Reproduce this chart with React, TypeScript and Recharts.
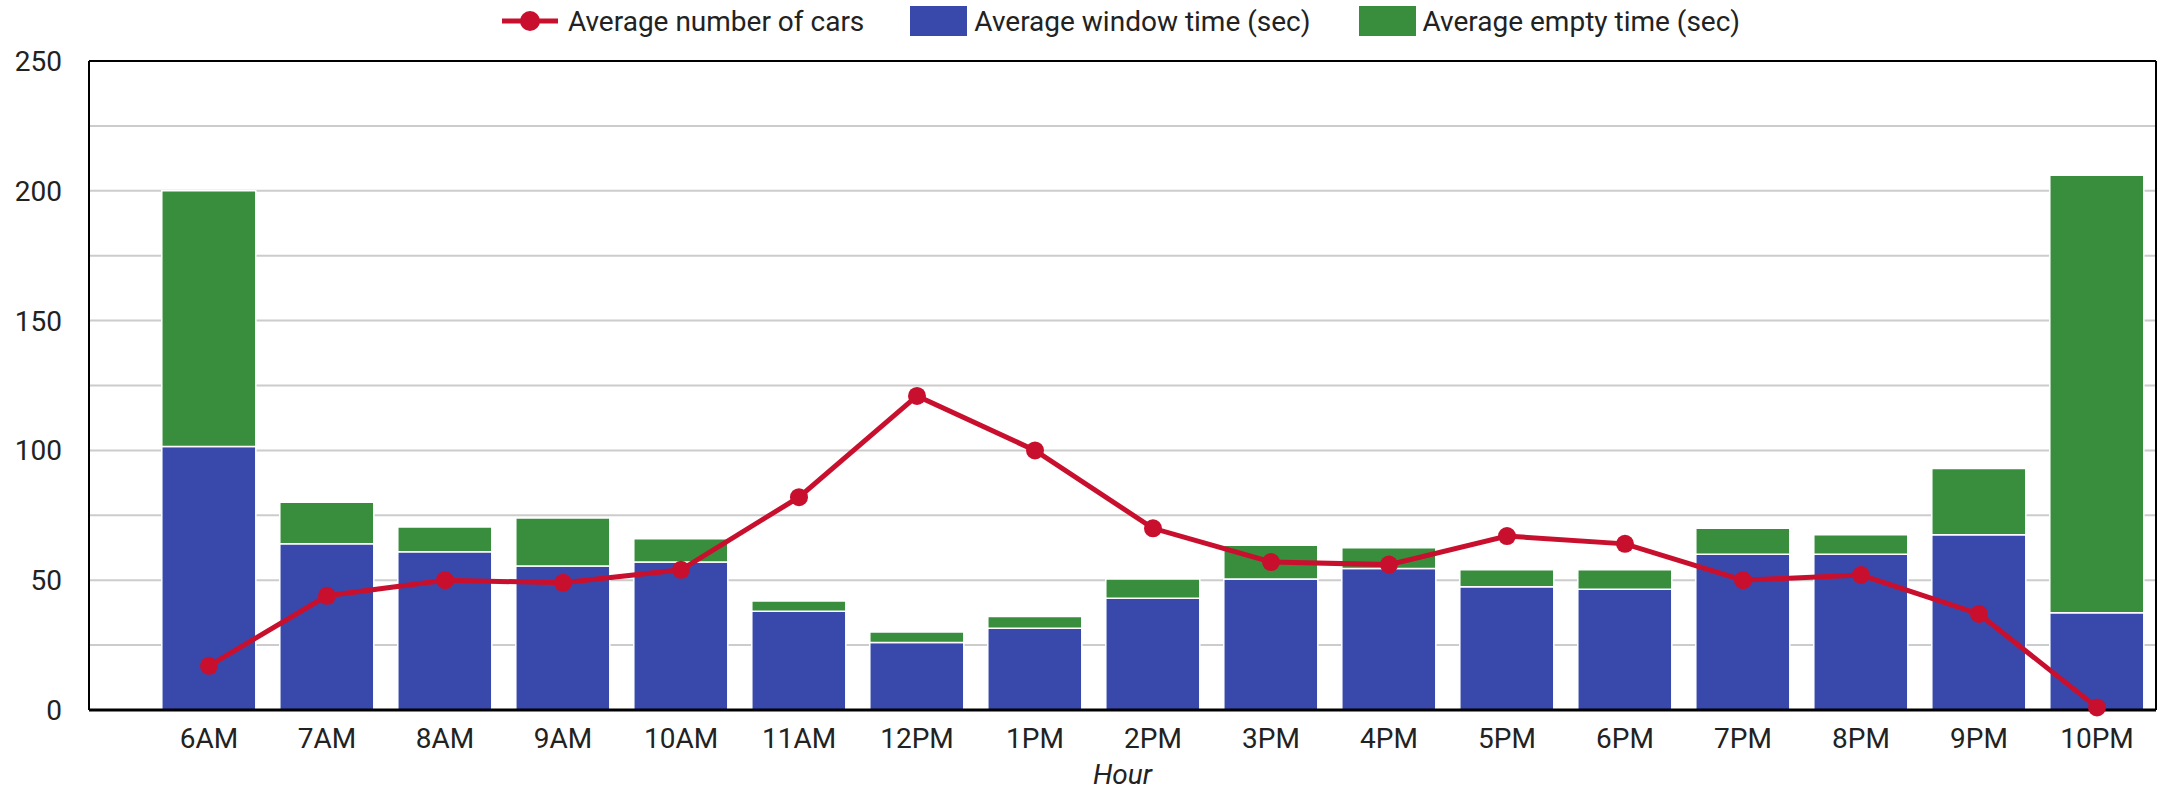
import React from 'react';
import {
  ComposedChart,
  Bar,
  Line,
  XAxis,
  YAxis,
  CartesianGrid,
  Legend,
} from 'recharts';

if (typeof document !== 'undefined') {
  document.body.style.margin = '0';
}

const hours = ['6AM', '7AM', '8AM', '9AM', '10AM', '11AM', '12PM', '1PM', '2PM', '3PM', '4PM', '5PM', '6PM', '7PM', '8PM', '9PM', '10PM'];
const avgCars = [17, 44, 50, 49, 54, 82, 121, 100, 70, 57, 56, 67, 64, 50, 52, 37, 1];
const windowTime = [101.5, 64, 61, 55.5, 57, 38, 26, 31.5, 43, 50.5, 54.5, 47.5, 46.5, 60, 60, 67.5, 37.5];
const emptyTime = [98.5, 16, 9.5, 18.5, 9, 4, 4, 4.5, 7.5, 13, 8, 6.5, 7.5, 10, 7.5, 25.5, 168.5];
const yTicks = [0, 25, 50, 75, 100, 125, 150, 175, 200, 225, 250];

const RED = '#C8102E';
const BLUE = '#3949AB';
const GREEN = '#388E3C';
const FONT = 'Roboto, "Noto Sans", sans-serif';

const data = hours.map((h, i) => ({
  hour: h,
  cars: avgCars[i],
  window: windowTime[i],
  empty: emptyTime[i],
}));

const legendText: React.CSSProperties = {
  fontFamily: FONT,
  fontSize: 28,
  color: '#222',
  whiteSpace: 'nowrap',
};

const LegendContent = () => (
  <div
    style={{
      width: 2165,
      height: 42,
      display: 'flex',
      justifyContent: 'center',
      alignItems: 'center',
      paddingLeft: 77,
      boxSizing: 'border-box',
    }}
  >
    <svg width={56} height={24} style={{ marginRight: 10 }}>
      <line x1={0} y1={12} x2={56} y2={12} stroke={RED} strokeWidth={5} />
      <circle cx={28} cy={12} r={10} fill={RED} />
    </svg>
    <span style={legendText}>Average number of cars</span>
    <div style={{ width: 57, height: 30, background: BLUE, marginLeft: 46, marginRight: 7 }} />
    <span style={legendText}>Average window time (sec)</span>
    <div style={{ width: 57, height: 30, background: GREEN, marginLeft: 48, marginRight: 7 }} />
    <span style={legendText}>Average empty time (sec)</span>
  </div>
);

const tickStyle = { fontSize: 28, fill: '#222', fontFamily: FONT };

export default function App() {
  return (
    <div style={{ width: 2165, height: 792, background: '#fff' }}>
      <ComposedChart
        width={2165}
        height={792}
        data={data}
        margin={{ top: 18, right: 8, bottom: 0, left: 0 }}
        barCategoryGap="10%"
        style={{ fontFamily: FONT }}
      >
        <CartesianGrid vertical={false} stroke="#cccccc" strokeWidth={2} />
        <Legend
          verticalAlign="top"
          content={<LegendContent />}
          wrapperStyle={{ top: 0, left: 0, width: 2165, height: 42 }}
        />
        <XAxis
          dataKey="hour"
          tickSize={0}
          tickMargin={18}
          height={82}
          padding={{ left: 61, right: 0 }}
          axisLine={{ stroke: '#000', strokeWidth: 3 }}
          tick={tickStyle}
          interval={0}
          label={{
            value: 'Hour',
            position: 'insideBottom',
            offset: 8,
            style: { fontSize: 28, fontStyle: 'italic', fill: '#222', fontFamily: FONT },
          }}
        />
        <XAxis
          xAxisId="top"
          dataKey="hour"
          orientation="top"
          height={1}
          tick={false}
          tickLine={false}
          axisLine={{ stroke: '#000', strokeWidth: 2 }}
        />
        <YAxis
          domain={[0, 250]}
          ticks={yTicks}
          width={89}
          tickSize={0}
          tickMargin={27}
          axisLine={{ stroke: '#000', strokeWidth: 2 }}
          tick={tickStyle}
          tickFormatter={(v: number) => (v % 50 === 0 ? String(v) : '')}
          interval={0}
        />
        <YAxis
          yAxisId="right"
          orientation="right"
          width={1}
          tick={false}
          tickLine={false}
          axisLine={{ stroke: '#000', strokeWidth: 2 }}
        />
        <Bar dataKey="window" stackId="a" fill={BLUE} stroke="#ffffff" strokeWidth={1.5} isAnimationActive={false} />
        <Bar dataKey="empty" stackId="a" fill={GREEN} stroke="#ffffff" strokeWidth={1.5} isAnimationActive={false} />
        <Line
          dataKey="cars"
          stroke={RED}
          strokeWidth={5}
          dot={{ r: 9, fill: RED, stroke: RED, strokeWidth: 0 }}
          activeDot={false}
          isAnimationActive={false}
        />
      </ComposedChart>
    </div>
  );
}
